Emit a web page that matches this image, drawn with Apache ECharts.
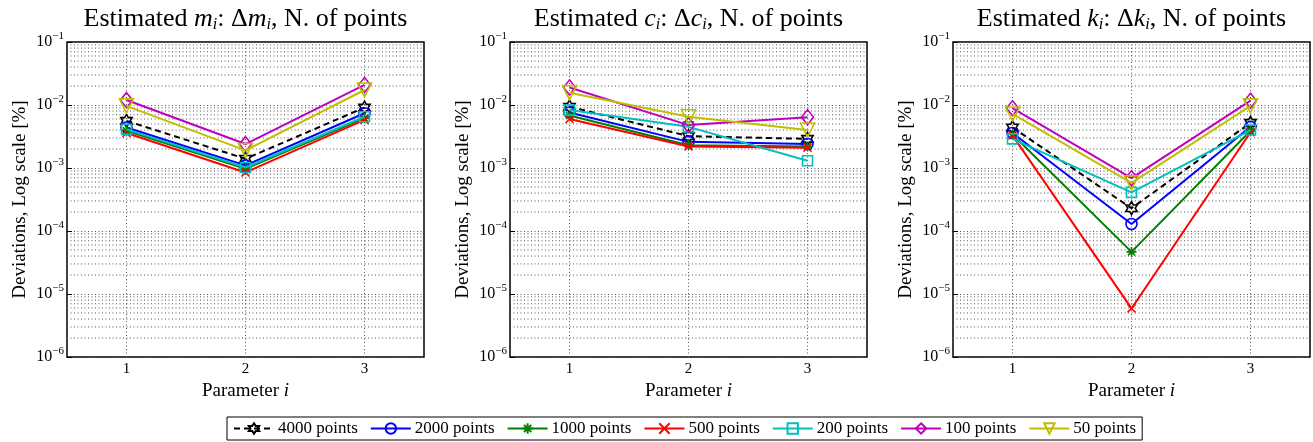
<!DOCTYPE html>
<html>
<head>
<meta charset="utf-8" />
<title>Deviations vs. N. of points</title>
<script src="https://cdn.jsdelivr.net/npm/echarts@6/dist/echarts.min.js"></script>
<style>
  html, body { margin: 0; padding: 0; background: #fff; }
  #chart { width: 1313px; height: 442px; }
</style>
</head>
<body>
<div id="chart"></div>
<script>
// ---- data ----
var params = [1, 2, 3];
var seriesNames = ['4000 points', '2000 points', '1000 points', '500 points', '200 points', '100 points', '50 points'];

// estimated m_i, one row per series (same order as seriesNames)
var devM = [
  [0.0056, 0.0014, 0.0091],
  [0.0044, 0.0011, 0.0074],
  [0.0039, 0.00097, 0.0062],
  [0.0036, 0.00085, 0.0058],
  [0.0041, 0.00102, 0.0065],
  [0.012, 0.0024, 0.0208],
  [0.0097, 0.0019, 0.0173]
];
// estimated c_i
var devC = [
  [0.0094, 0.0032, 0.0029],
  [0.0076, 0.0026, 0.0024],
  [0.0068, 0.0023, 0.0022],
  [0.0060, 0.0022, 0.0021],
  [0.0083, 0.0045, 0.0013],
  [0.019, 0.0048, 0.0064],
  [0.0157, 0.0065, 0.0040]
];
// estimated k_i
var devK = [
  [0.0044, 0.00023, 0.0052],
  [0.0036, 0.000129, 0.0045],
  [0.0034, 0.0000466, 0.0039],
  [0.0033, 0.0000059, 0.0037],
  [0.0029, 0.00041, 0.0040],
  [0.0089, 0.00069, 0.0117],
  [0.0072, 0.00058, 0.0097]
];

var panelLetters = ['m', 'c', 'k'];
var decades = [-6, -5, -4, -3, -2];
var minorFactors = [2, 3, 4, 5, 6, 7, 8, 9];

// ---- styles ----
var serif = 'Liberation Serif';
var hexagram = 'path://M50 0L64.4 25L93.3 25L78.9 50L93.3 75L64.4 75L50 100L35.6 75L6.7 75L21.1 50L6.7 25L35.6 25Z';
var asterisk = 'path://M50 0L50 100M0 50L100 50M15 15L85 85M85 15L15 85';
var cross = 'path://M0 0L100 100M100 0L0 100';

var styles = [
  { color: '#000000', symbol: hexagram, size: 13, dash: [6, 4] },
  { color: '#0000ff', symbol: 'circle', size: 11 },
  { color: '#008000', symbol: asterisk, size: 10 },
  { color: '#ff0000', symbol: cross, size: 8 },
  { color: '#00bfbf', symbol: 'rect', size: 10 },
  { color: '#bf00bf', symbol: 'diamond', size: [12, 15] },
  { color: '#bfbf00', symbol: 'triangle', size: 14, rotate: 180 }
];

var plotLeft = [67, 510, 953];
var plotTop = 42, plotW = 357, plotH = 315;

// grid lines as broken line series: minor (2..9 x decade) and vertical at each parameter
var gridData = [];
decades.forEach(function (e) {
  minorFactors.forEach(function (f) {
    var v = f * Math.pow(10, e);
    gridData.push([0.5, v], [3.5, v], [3.5, '-']);
  });
});
params.forEach(function (x) {
  gridData.push([x, 1e-6], [x, 1e-1], [x, '-']);
});

var gridLine = { type: [1, 2.5], color: '#555', width: 1 };

var grids = [], xAxes = [], yAxes = [], series = [], graphics = [];

[devM, devC, devK].forEach(function (dev, p) {
  grids.push({
    left: plotLeft[p], top: plotTop, width: plotW, height: plotH,
    show: true, borderColor: '#000', borderWidth: 1.5, backgroundColor: '#fff'
  });
  xAxes.push({
    gridIndex: p, type: 'value', min: 0.5, max: 3.5, interval: 0.5,
    axisLine: { show: false }, axisTick: { show: false }, splitLine: { show: false },
    axisLabel: {
      margin: 5, fontFamily: serif, fontSize: 15, color: '#000',
      formatter: function (v) { return Number.isInteger(v) && v >= 1 && v <= 3 ? String(v) : ''; }
    },
    name: '{n|Parameter }{i|i}', nameLocation: 'middle', nameGap: 18,
    nameTextStyle: {
      rich: {
        n: { fontFamily: serif, fontSize: 19, color: '#000' },
        i: { fontFamily: serif, fontSize: 19, fontStyle: 'italic', color: '#000' }
      }
    }
  });
  yAxes.push({
    gridIndex: p, type: 'log', logBase: 10, min: 1e-6, max: 1e-1,
    axisLine: { show: false },
    axisTick: { show: true, inside: true, length: 5, lineStyle: { color: '#000' } },
    splitLine: { show: true, lineStyle: gridLine },
    axisLabel: {
      margin: 3, color: '#000',
      formatter: function (v) {
        var e = Math.round(Math.log10(v));
        return '{b|10}{s|\u2212' + Math.abs(e) + '}';
      },
      rich: {
        b: { fontFamily: serif, fontSize: 16, color: '#000' },
        s: { fontFamily: serif, fontSize: 11, color: '#000', padding: [0, 0, 12, 0] }
      }
    },
    name: 'Deviations, Log scale [%]', nameLocation: 'middle', nameGap: 37,
    nameTextStyle: { fontFamily: serif, fontSize: 19, color: '#000' }
  });

  series.push({
    name: 'grid', type: 'line', xAxisIndex: p, yAxisIndex: p,
    data: gridData, symbol: 'none', connectNulls: false,
    lineStyle: gridLine, silent: true, animation: false, z: 1
  });

  dev.forEach(function (vals, s) {
    var st = styles[s];
    series.push({
      name: seriesNames[s], type: 'line',
      xAxisIndex: p, yAxisIndex: p,
      data: params.map(function (x, i) { return [x, vals[i]]; }),
      symbol: st.symbol, symbolSize: st.size, symbolRotate: st.rotate || 0,
      symbolKeepAspect: true, showAllSymbol: true,
      lineStyle: { color: st.color, width: 2, type: st.dash || 'solid' },
      itemStyle: { color: 'none', borderColor: st.color, borderWidth: 1.6 },
      emphasis: { disabled: true },
      animation: false, z: 3 + s
    });
  });

  var L = panelLetters[p];
  graphics.push({
    type: 'text',
    x: plotLeft[p] + plotW / 2, y: 19,
    style: {
      text: '{n|Estimated }{i|' + L + '}{s|i}{n|: \u0394}{i|' + L + '}{s|i}{n|, N. of points}',
      align: 'center', verticalAlign: 'middle',
      rich: {
        n: { fontFamily: serif, fontSize: 26, fill: '#000' },
        i: { fontFamily: serif, fontSize: 26, fontStyle: 'italic', fill: '#000' },
        s: { fontFamily: serif, fontSize: 16, fontStyle: 'italic', fill: '#000', padding: [11, 0, 0, 0] }
      }
    }
  });
});

var chart = echarts.init(document.getElementById('chart'), null, { renderer: 'canvas' });
chart.setOption({
  backgroundColor: '#fff',
  animation: false,
  grid: grids,
  xAxis: xAxes,
  yAxis: yAxes,
  legend: {
    data: seriesNames,
    left: 227, top: 417,
    orient: 'horizontal',
    padding: [3, 6, 3, 6],
    itemGap: 12, itemWidth: 40, itemHeight: 13,
    borderColor: '#000', borderWidth: 1, borderRadius: 0,
    backgroundColor: '#fff',
    textStyle: { fontFamily: serif, fontSize: 17, color: '#000', padding: [0, 0, 0, -1] },
    selectedMode: false
  },
  graphic: graphics,
  series: series
});
</script>
</body>
</html>
